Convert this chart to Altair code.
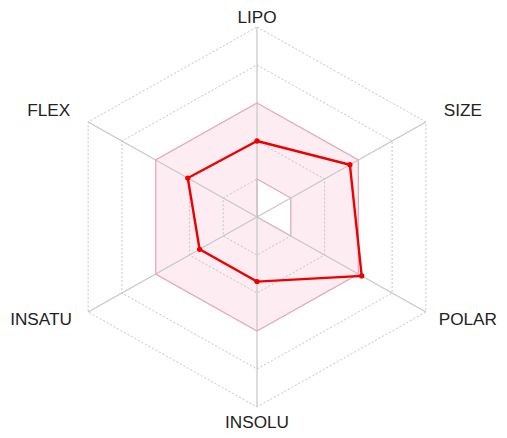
import altair as alt
import pandas as pd

# ---- data ----
axes = ["LIPO", "SIZE", "POLAR", "INSOLU", "INSATU", "FLEX"]
values = [2.0, 2.75, 3.1, 1.7, 1.7, 2.05]
optimal_upper = [3, 3, 3, 3, 3, 3]
optimal_lower = [1, 1, 1, 0, 0, 0]
rings = [1, 2, 4, 5]
ring_max = 5

idx = list(range(len(axes)))
df_vals = pd.DataFrame({"axis": axes, "i": idx, "r": values})
df_up = pd.DataFrame({"axis": axes, "i": idx, "r": optimal_upper})
df_lo = pd.DataFrame({"axis": axes, "i": idx, "r": optimal_lower})
df_rings = pd.DataFrame(
    [{"ring": g, "axis": a, "i": i, "r": g} for g in rings for i, a in enumerate(axes)]
)
df_spokes = pd.DataFrame({"axis": axes, "i": idx, "r": [ring_max] * len(axes)})
df_labels = pd.DataFrame({"axis": axes, "i": idx})

xs = alt.Scale(domain=[-6.385, 6.205])
ys = alt.Scale(domain=[-5.605, 5.5])
X = alt.X("x:Q", scale=xs, axis=None)
Y = alt.Y("y:Q", scale=ys, axis=None)


def polar(ch):
    return ch.transform_calculate(
        ang="datum.i * PI / 3",
    ).transform_calculate(
        x="datum.r * sin(datum.ang)",
        y="datum.r * cos(datum.ang)",
    )


pink_fill = polar(
    alt.Chart(df_up).mark_line(
        interpolate="linear-closed", fill="#fdedf2", stroke="#fdedf2", strokeWidth=0.5
    )
).encode(x=X, y=Y, order="i:Q")

ring_lines = polar(
    alt.Chart(df_rings).mark_line(
        interpolate="linear-closed", stroke="#c4c4c4", strokeWidth=1, strokeDash=[2, 2]
    )
).encode(x=X, y=Y, order="i:Q", detail="ring:N")

white_poly = polar(
    alt.Chart(df_lo).mark_line(
        interpolate="linear-closed", fill="white", stroke="#e6a9b9", strokeWidth=1.2
    )
).encode(x=X, y=Y, order="i:Q")

spokes = polar(
    alt.Chart(df_spokes).mark_rule(color="#c6c6c6", strokeWidth=1.2)
).transform_calculate(x0="0", y0="0").encode(
    x=X, y=Y, x2="x0:Q", y2="y0:Q"
)

pink_border = polar(
    alt.Chart(df_up).mark_line(
        interpolate="linear-closed", stroke="#e6a9b9", strokeWidth=1.3
    )
).encode(x=X, y=Y, order="i:Q")

red_line = polar(
    alt.Chart(df_vals).mark_line(
        interpolate="linear-closed", stroke="#ee0000", strokeWidth=2.4
    )
).encode(x=X, y=Y, order="i:Q")

red_pts = polar(
    alt.Chart(df_vals).mark_point(filled=True, color="#ee0000", size=28, opacity=1)
).encode(x=X, y=Y)


def label_layer(align, cond):
    return (
        alt.Chart(df_labels)
        .transform_calculate(ang="datum.i * PI / 3")
        .transform_filter(cond)
        .transform_calculate(
            s="sin(datum.ang)",
            c="cos(datum.ang)",
        )
        .transform_calculate(
            x="datum.s * (datum.c < -0.1 ? (datum.s > 0 ? 5.38 : 5.48) : 5.53)",
            y="abs(datum.s) > 0.1 ? datum.c * (datum.c > 0 ? 5.56 : 5.4) : (datum.c > 0 ? 5.25 : -5.42)",
        )
        .mark_text(
            align=align,
            baseline="middle",
            font="Liberation Sans",
            fontSize=17.2,
            color="#222222",
        )
        .encode(x=X, y=Y, text="axis:N")
    )


labels = (
    label_layer("left", "sin(datum.ang) > 0.1")
    + label_layer("right", "sin(datum.ang) < -0.1")
    + label_layer("center", "abs(sin(datum.ang)) <= 0.1")
)

chart = (
    alt.layer(pink_fill, ring_lines, white_poly, spokes, pink_border, red_line, red_pts, labels)
    .properties(
        width=491,
        height=422,
        padding={"left": 0, "top": 0, "right": 0, "bottom": 8},
        autosize=alt.AutoSizeParams(type="none"),
    )
    .configure_view(stroke=None)
)

chart.save("out.html", embed_options={"renderer": "svg", "actions": False})
